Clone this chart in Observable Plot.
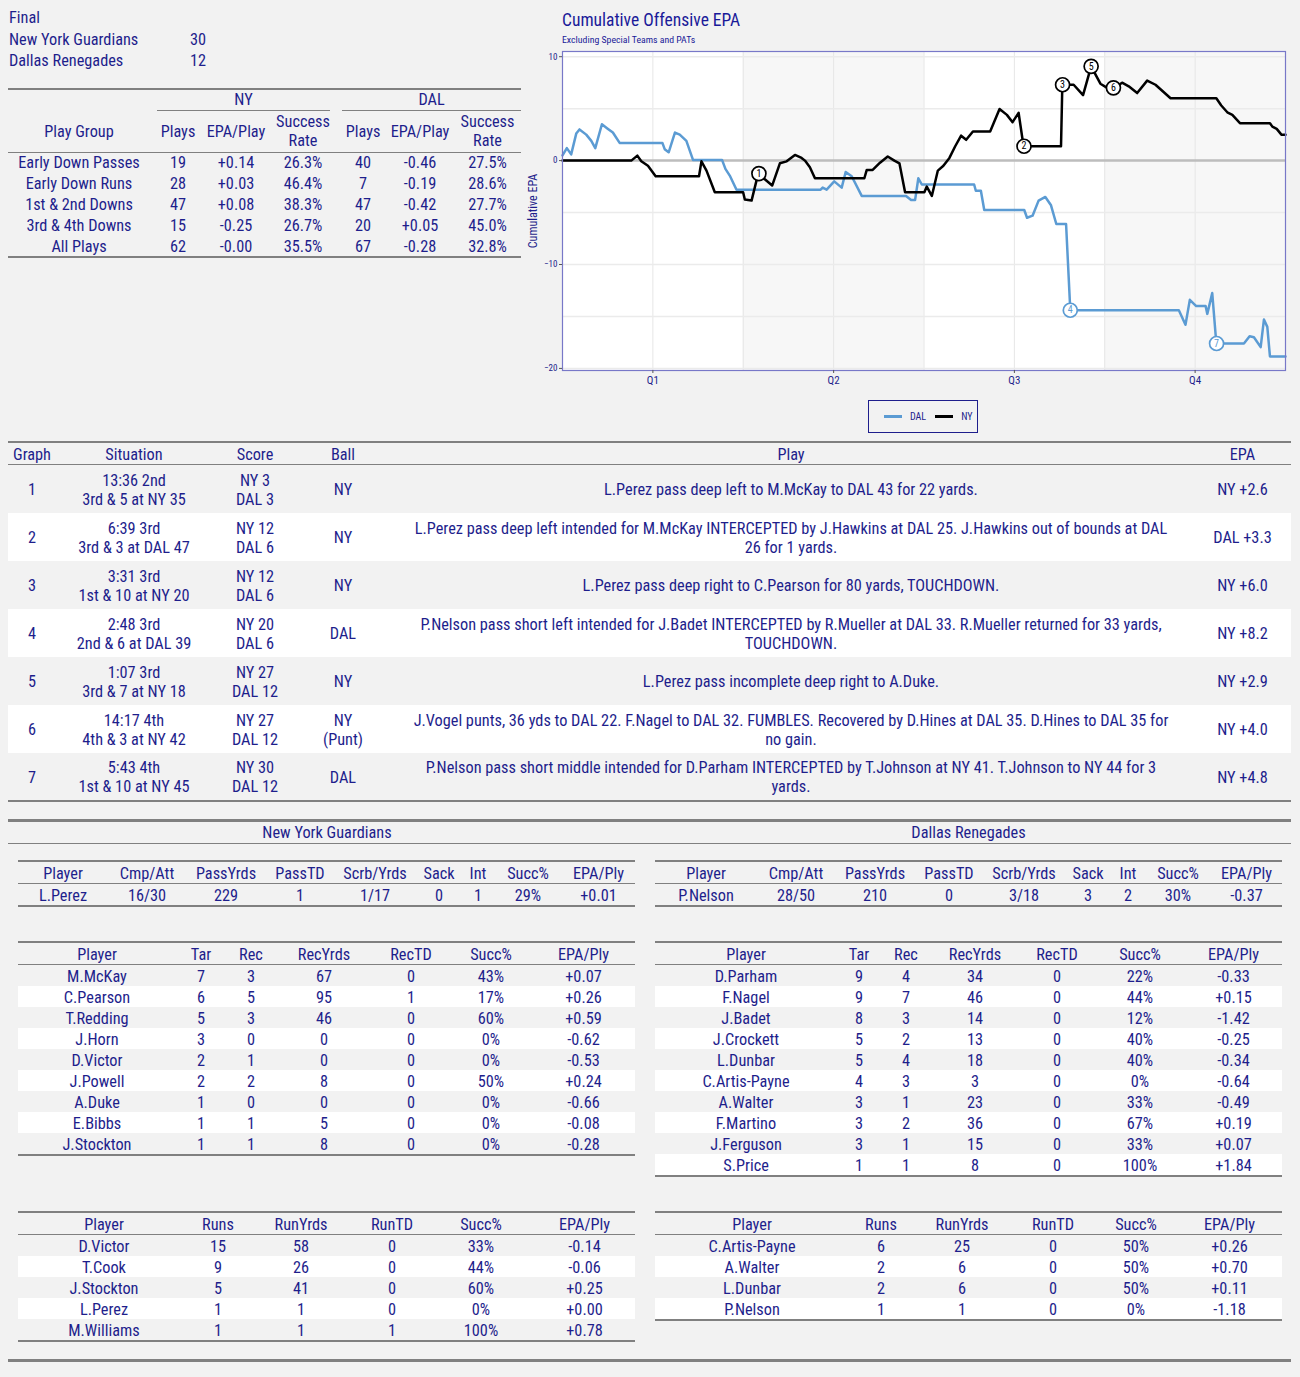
<!DOCTYPE html>
<html>
<head>
<meta charset="utf-8">
<script src="https://cdn.jsdelivr.net/npm/d3@7"></script>
<script src="https://cdn.jsdelivr.net/npm/@observablehq/plot@0.6"></script>
<style>
body{margin:0;background:#f2f2f2;font-family:"Roboto Condensed","Liberation Sans Narrow","Arial Narrow","DejaVu Sans Condensed",sans-serif;color:#1e1e8c;}
#page{position:relative;width:1300px;height:1377px;overflow:hidden;}
.abs{position:absolute;}
table{border-collapse:collapse;table-layout:fixed;font-size:16.3px;color:#1e1e8c;border-top:2px solid #808080;border-bottom:2px solid #808080;}
td,th{padding:0;text-align:center;font-weight:normal;white-space:nowrap;}
th{border-bottom:1px solid #808080;}
.low td,.low th{padding-top:2px;line-height:19px;}
.hr{position:absolute;height:0;border-top:2px solid #808080;}
#score div{height:21.5px;line-height:21.5px;font-size:16.3px;}
</style>
</head>
<body>
<div id="page">
  <div id="score" class="abs" style="left:9px;top:7px"></div>
  <div id="summary" class="abs" style="left:8px;top:88px"></div>
  <div id="chart" class="abs" style="left:520px;top:0;width:780px;height:440px">
    <div class="abs" style="left:42px;top:9px;font-size:17.5px;line-height:22px;color:#1a1a99">Cumulative Offensive EPA</div>
    <div class="abs" style="left:42px;top:34px;font-size:9.8px;line-height:12px;color:#1a1a99">Excluding Special Teams and PATs</div>
    <div id="plot" class="abs" style="left:0;top:46px"></div>
    <div id="legend" class="abs" style="left:348px;top:400px;width:108px;height:31px;border:1.5px solid #1e1e8c;font-size:10px"></div>
  </div>
  <div id="plays" class="abs low" style="left:8px;top:441px"></div>
  <div id="teams" class="abs" style="left:8px;top:819px;width:1283px;border-top:3px solid #808080;border-bottom:1px solid #808080;height:21px;font-size:16.3px;line-height:21px"></div>
  <div id="nyPass" class="abs low" style="left:18px;top:860px"></div>
  <div id="dalPass" class="abs low" style="left:655px;top:860px"></div>
  <div id="nyRec" class="abs low" style="left:18px;top:941px"></div>
  <div id="dalRec" class="abs low" style="left:655px;top:941px"></div>
  <div id="nyRush" class="abs low" style="left:18px;top:1211px"></div>
  <div id="dalRush" class="abs low" style="left:655px;top:1211px"></div>
  <div class="hr" style="left:8px;top:1359px;width:1283px;border-top-width:3px"></div>
</div>
<script>
// final score
const scoreTeams = ["New York Guardians", "Dallas Renegades"];
const scorePoints = [30, 12];

// play group summary
const groupLabels = ["Early Down Passes", "Early Down Runs", "1st & 2nd Downs", "3rd & 4th Downs", "All Plays"];
const nyGroupPlays = [19, 28, 47, 15, 62];
const nyGroupEpa = ["+0.14", "+0.03", "+0.08", "-0.25", "-0.00"];
const nyGroupSucc = ["26.3%", "46.4%", "38.3%", "26.7%", "35.5%"];
const dalGroupPlays = [40, 7, 47, 20, 67];
const dalGroupEpa = ["-0.46", "-0.19", "-0.42", "+0.05", "-0.28"];
const dalGroupSucc = ["27.5%", "28.6%", "27.7%", "45.0%", "32.8%"];

// cumulative EPA, game minute elapsed
const nyMinute = [0, 5.71, 6.21, 6.54, 7.09, 7.73, 11.33, 11.53, 11.95, 12.64, 14.99, 15.13, 15.69, 16.23, 16.79, 17.40, 18.04, 18.60, 19.29, 19.84, 20.12, 20.53, 20.95, 25.05, 25.25, 25.74, 26.35, 26.99, 27.54, 27.96, 28.43, 30.03, 30.23, 30.65, 31.15, 31.61, 32.11, 32.59, 33.08, 33.50, 34.06, 35.49, 36.27, 36.88, 37.35, 37.85, 38.26, 41.37, 41.48, 42.42, 43.20, 43.87, 44.64, 45.20, 45.70, 45.89, 46.44, 46.99, 47.69, 48.52, 49.21, 50.46, 54.26, 54.67, 55.17, 55.59, 56.22, 58.71, 58.91, 59.27, 59.66, 60];
const nyCum = [0, 0, 0.48, -0.07, -0.5, -1.5, -1.5, -0.07, -0.96, -3.05, -3.05, -3.75, -3.85, -1.3, -1.8, -2.4, -0.26, -0.07, 0.55, 0.26, 0, -0.64, -1.7, -1.7, -0.9, -0.9, -0.2, 0.4, 0, -0.26, -3.05, -3.05, -2.5, -3.4, -0.96, -0.5, 0.26, 1.38, 2.4, 2.0, 2.8, 2.8, 4.97, 4.4, 3.7, 4.6, 1.38, 1.38, 7.3, 7.3, 6.3, 9.07, 7.4, 7.0, 7.0, 7.05, 7.5, 7.15, 6.5, 7.7, 7.3, 6.0, 6.0, 5.3, 4.65, 4.4, 3.6, 3.6, 3.27, 3.05, 2.5, 2.5];
const dalMinute = [0, 0.36, 0.72, 1.14, 1.41, 1.97, 2.39, 2.72, 3.27, 3.72, 4.18, 4.74, 8.29, 8.48, 8.81, 9.33, 9.73, 10.28, 10.83, 13.24, 13.52, 13.88, 14.44, 21.42, 21.59, 21.92, 22.55, 23.17, 23.50, 24.00, 24.83, 28.51, 28.93, 29.26, 29.53, 29.82, 34.16, 34.30, 34.72, 35.00, 38.32, 38.55, 39.01, 39.51, 40.07, 40.54, 40.98, 41.79, 42.14, 51.15, 51.70, 52.06, 52.59, 53.37, 53.51, 53.92, 54.26, 56.55, 57.02, 57.38, 57.94, 58.21, 58.49, 58.71, 60];
const dalCum = [0.5, 1.2, 0.6, 2.6, 3.0, 2.5, 1.9, 1.2, 3.5, 3.1, 2.7, 1.7, 1.7, 1.1, 0.8, 2.7, 2.5, 1.9, 0.07, 0.07, -0.8, -1.44, -2.8, -2.8, -2.6, -2.8, -2.0, -2.6, -1.1, -1.5, -3.4, -3.4, -3.8, -3.8, -1.7, -2.3, -2.3, -2.9, -2.9, -4.75, -4.75, -5.5, -5.3, -3.85, -3.5, -4.3, -6.1, -6.1, -14.4, -14.4, -15.8, -13.4, -14.0, -14.0, -14.75, -12.75, -17.6, -17.6, -16.9, -17.0, -17.95, -15.3, -16.0, -18.85, -18.85];

const quarterLabels = ["Q1", "Q2", "Q3", "Q4"];
const quarterStart = [0, 15, 30, 45];
const quarterMid = [7.5, 22.5, 37.5, 52.5];
const gridMinutes = [7.5, 15, 22.5, 30, 37.5, 45, 52.5];
const gridEpa = [-20, -15, -10, -5, 5, 10];

// key plays
const keyNum = [1, 2, 3, 4, 5, 6, 7];
const keyMinute = [16.3, 38.3, 41.5, 42.14, 43.87, 45.72, 54.28];
const keyCum = [-1.25, 1.38, 7.3, -14.4, 9.07, 7.0, -17.6];
const keyLine = ["NY", "NY", "NY", "DAL", "NY", "NY", "DAL"];
const playClock = ["13:36 2nd", "6:39 3rd", "3:31 3rd", "2:48 3rd", "1:07 3rd", "14:17 4th", "5:43 4th"];
const playDown = ["3rd & 5 at NY 35", "3rd & 3 at DAL 47", "1st & 10 at NY 20", "2nd & 6 at DAL 39", "3rd & 7 at NY 18", "4th & 3 at NY 42", "1st & 10 at NY 45"];
const playScoreNy = [3, 12, 12, 20, 27, 27, 30];
const playScoreDal = [3, 6, 6, 6, 12, 12, 12];
const playBall = ["NY", "NY", "NY", "DAL", "NY", "NY<br>(Punt)", "DAL"];
const playText = [
  "L.Perez pass deep left to M.McKay to DAL 43 for 22 yards.",
  "L.Perez pass deep left intended for M.McKay INTERCEPTED by J.Hawkins at DAL 25. J.Hawkins out of bounds at DAL 26 for 1 yards.",
  "L.Perez pass deep right to C.Pearson for 80 yards, TOUCHDOWN.",
  "P.Nelson pass short left intended for J.Badet INTERCEPTED by R.Mueller at DAL 33. R.Mueller returned for 33 yards, TOUCHDOWN.",
  "L.Perez pass incomplete deep right to A.Duke.",
  "J.Vogel punts, 36 yds to DAL 22. F.Nagel to DAL 32. FUMBLES. Recovered by D.Hines at DAL 35. D.Hines to DAL 35 for no gain.",
  "P.Nelson pass short middle intended for D.Parham INTERCEPTED by T.Johnson at NY 41. T.Johnson to NY 44 for 3 yards."
];
const playEpa = ["NY +2.6", "DAL +3.3", "NY +6.0", "NY +8.2", "NY +2.9", "NY +4.0", "NY +4.8"];

// player tables
const passCols = ["Player", "Cmp/Att", "PassYrds", "PassTD", "Scrb/Yrds", "Sack", "Int", "Succ%", "EPA/Ply"];
const nyPassRows = [["L.Perez", "16/30", 229, 1, "1/17", 0, 1, "29%", "+0.01"]];
const dalPassRows = [["P.Nelson", "28/50", 210, 0, "3/18", 3, 2, "30%", "-0.37"]];

const recCols = ["Player", "Tar", "Rec", "RecYrds", "RecTD", "Succ%", "EPA/Ply"];
const nyRecRows = [
  ["M.McKay", 7, 3, 67, 0, "43%", "+0.07"],
  ["C.Pearson", 6, 5, 95, 1, "17%", "+0.26"],
  ["T.Redding", 5, 3, 46, 0, "60%", "+0.59"],
  ["J.Horn", 3, 0, 0, 0, "0%", "-0.62"],
  ["D.Victor", 2, 1, 0, 0, "0%", "-0.53"],
  ["J.Powell", 2, 2, 8, 0, "50%", "+0.24"],
  ["A.Duke", 1, 0, 0, 0, "0%", "-0.66"],
  ["E.Bibbs", 1, 1, 5, 0, "0%", "-0.08"],
  ["J.Stockton", 1, 1, 8, 0, "0%", "-0.28"]
];
const dalRecRows = [
  ["D.Parham", 9, 4, 34, 0, "22%", "-0.33"],
  ["F.Nagel", 9, 7, 46, 0, "44%", "+0.15"],
  ["J.Badet", 8, 3, 14, 0, "12%", "-1.42"],
  ["J.Crockett", 5, 2, 13, 0, "40%", "-0.25"],
  ["L.Dunbar", 5, 4, 18, 0, "40%", "-0.34"],
  ["C.Artis-Payne", 4, 3, 3, 0, "0%", "-0.64"],
  ["A.Walter", 3, 1, 23, 0, "33%", "-0.49"],
  ["F.Martino", 3, 2, 36, 0, "67%", "+0.19"],
  ["J.Ferguson", 3, 1, 15, 0, "33%", "+0.07"],
  ["S.Price", 1, 1, 8, 0, "100%", "+1.84"]
];

const rushCols = ["Player", "Runs", "RunYrds", "RunTD", "Succ%", "EPA/Ply"];
const nyRushRows = [
  ["D.Victor", 15, 58, 0, "33%", "-0.14"],
  ["T.Cook", 9, 26, 0, "44%", "-0.06"],
  ["J.Stockton", 5, 41, 0, "60%", "+0.25"],
  ["L.Perez", 1, 1, 0, "0%", "+0.00"],
  ["M.Williams", 1, 1, 1, "100%", "+0.78"]
];
const dalRushRows = [
  ["C.Artis-Payne", 6, 25, 0, "50%", "+0.26"],
  ["A.Walter", 2, 6, 0, "50%", "+0.70"],
  ["L.Dunbar", 2, 6, 0, "50%", "+0.11"],
  ["P.Nelson", 1, 1, 0, "0%", "-1.18"]
];

const navy = "#1e1e8c";
const dalColor = "#5b9bd3";

// ---- score block
document.querySelector("#score").innerHTML =
  `<div>Final</div>` +
  scoreTeams.map((t, i) => `<div><span style="display:inline-block;width:181px">${t}</span>${scorePoints[i]}</div>`).join("");

// ---- generic table helper
function makeTable(sel, widths, cols, rows, rowH) {
  const total = d3.sum(widths);
  let html = `<table style="width:${total}px"><colgroup>${widths.map(w => `<col style="width:${w}px">`).join("")}</colgroup>`;
  html += `<tr style="height:21px">${cols.map(c => `<th>${c}</th>`).join("")}</tr>`;
  rows.forEach((r, i) => {
    html += `<tr style="height:${rowH}px;background:${i % 2 ? "#ffffff" : "transparent"}">${r.map(v => `<td>${v}</td>`).join("")}</tr>`;
  });
  html += `</table>`;
  document.querySelector(sel).innerHTML = html;
}

// ---- summary table
{
  const w = [142, 56, 60, 74, 46, 68, 67];
  let html = `<table style="width:${d3.sum(w)}px"><colgroup>${w.map(x => `<col style="width:${x}px">`).join("")}</colgroup>`;
  html += `<tr style="height:21px"><td></td>
    <td colspan="3"><div style="margin:0 10px 0 7px;border-bottom:1px solid #808080;line-height:20px">NY</div></td>
    <td colspan="3"><div style="margin:0 0 0 2px;border-bottom:1px solid #808080;line-height:20px">DAL</div></td></tr>`;
  html += `<tr style="height:41px;line-height:19px"><th>Play Group</th><th>Plays</th><th>EPA/Play</th><th>Success<br>Rate</th><th>Plays</th><th>EPA/Play</th><th>Success<br>Rate</th></tr>`;
  groupLabels.forEach((g, i) => {
    html += `<tr style="height:21px"><td>${g}</td><td>${nyGroupPlays[i]}</td><td>${nyGroupEpa[i]}</td><td>${nyGroupSucc[i]}</td><td>${dalGroupPlays[i]}</td><td>${dalGroupEpa[i]}</td><td>${dalGroupSucc[i]}</td></tr>`;
  });
  html += `</table>`;
  document.querySelector("#summary").innerHTML = html;
}

// ---- key plays table
{
  const w = [48, 156, 86, 90, 806, 97];
  let html = `<table style="width:${d3.sum(w)}px"><colgroup>${w.map(x => `<col style="width:${x}px">`).join("")}</colgroup>`;
  html += `<tr style="height:21px"><th>Graph</th><th>Situation</th><th>Score</th><th>Ball</th><th>Play</th><th>EPA</th></tr>`;
  keyNum.forEach((n, i) => {
    html += `<tr style="height:48px;background:${i % 2 ? "#ffffff" : "transparent"}">
      <td>${n}</td><td>${playClock[i]}<br>${playDown[i]}</td><td>NY ${playScoreNy[i]}<br>DAL ${playScoreDal[i]}</td>
      <td>${playBall[i]}</td><td style="white-space:normal;padding:2px 17px 0">${playText[i]}</td><td>${playEpa[i]}</td></tr>`;
  });
  html += `</table>`;
  document.querySelector("#plays").innerHTML = html;
}

// ---- team headings
document.querySelector("#teams").innerHTML =
  `<span style="position:absolute;left:0;width:638px;text-align:center">${scoreTeams[0]}</span>` +
  `<span style="position:absolute;left:642px;width:637px;text-align:center">${scoreTeams[1]}</span>`;

makeTable("#nyPass", [90, 78, 80, 68, 82, 46, 32, 68, 73], passCols, nyPassRows, 21);
makeTable("#dalPass", [102, 78, 80, 68, 82, 46, 34, 66, 71], passCols, dalPassRows, 21);
makeTable("#nyRec", [158, 50, 50, 96, 78, 82, 103], recCols, nyRecRows, 21);
makeTable("#dalRec", [182, 44, 50, 88, 76, 90, 97], recCols, dalRecRows, 21);
makeTable("#nyRush", [172, 56, 110, 72, 106, 101], rushCols, nyRushRows, 21);
makeTable("#dalRush", [194, 64, 98, 84, 82, 105], rushCols, dalRushRows, 21);

// ---- chart
const nyData = nyMinute.map((m, i) => ({m, epa: nyCum[i], team: "NY"}));
const dalData = dalMinute.map((m, i) => ({m, epa: dalCum[i], team: "DAL"}));
const keyData = keyNum.map((n, i) => ({n, m: keyMinute[i], epa: keyCum[i], team: keyLine[i]}));
const quarters = quarterStart.map((s, i) => ({x1: s, x2: s + 15, fill: i % 2 ? "#f7f7f7" : "#ffffff"}));

const chart = Plot.plot({
  width: 775,
  height: 345,
  marginLeft: 42,
  marginRight: 10,
  marginTop: 5,
  marginBottom: 21,
  style: {fontFamily: "'Roboto Condensed','Liberation Sans Narrow','Arial Narrow','DejaVu Sans Condensed',sans-serif", color: navy, background: "transparent"},
  x: {domain: [0, 60]},
  y: {domain: [-20.2, 10.5]},
  marks: [
    Plot.rect(quarters, {x1: "x1", x2: "x2", fill: "fill"}),
    Plot.ruleX(gridMinutes, {stroke: "#e6e6e6", strokeWidth: 1}),
    Plot.ruleY(gridEpa, {stroke: "#ebebeb", strokeWidth: 1.5}),
    Plot.ruleY([0], {stroke: "#bdbdbd", strokeWidth: 2.5}),
    Plot.line(dalData, {x: "m", y: "epa", stroke: dalColor, strokeWidth: 2.5}),
    Plot.line(nyData, {x: "m", y: "epa", stroke: "#000", strokeWidth: 2.5}),
    Plot.dot(keyData, {x: "m", y: "epa", r: 7, fill: "white", stroke: d => d.team === "NY" ? "#000" : dalColor, strokeWidth: 1.7}),
    Plot.text(keyData, {x: "m", y: "epa", text: "n", fill: d => d.team === "NY" ? "#000" : dalColor, fontSize: 10}),
    Plot.frame({stroke: "#7878c8", strokeWidth: 1.2}),
    Plot.axisX({ticks: quarterMid, tickFormat: d => quarterLabels[quarterMid.indexOf(d)], tickSize: 3, tickPadding: 3, fontSize: 11, label: null, stroke: "#555"}),
    Plot.axisY({ticks: [-20, -10, 0, 10], tickSize: 3, tickPadding: 2, fontSize: 9, label: null, stroke: "#555"}),
    Plot.text(["Cumulative EPA"], {frameAnchor: "left", rotate: -90, dx: -29, textAnchor: "middle", fontSize: 12, fill: navy})
  ]
});
document.querySelector("#plot").append(chart);

// ---- legend
document.querySelector("#legend").innerHTML = `
  <div style="display:flex;align-items:center;height:31px;padding-left:15px">
    <span style="display:inline-block;width:18px;height:2.5px;background:${dalColor}"></span>
    <span style="margin-left:8px">DAL</span>
    <span style="display:inline-block;width:18px;height:2.5px;background:#000;margin-left:9px"></span>
    <span style="margin-left:8px">NY</span>
  </div>`;
</script>
</body>
</html>
